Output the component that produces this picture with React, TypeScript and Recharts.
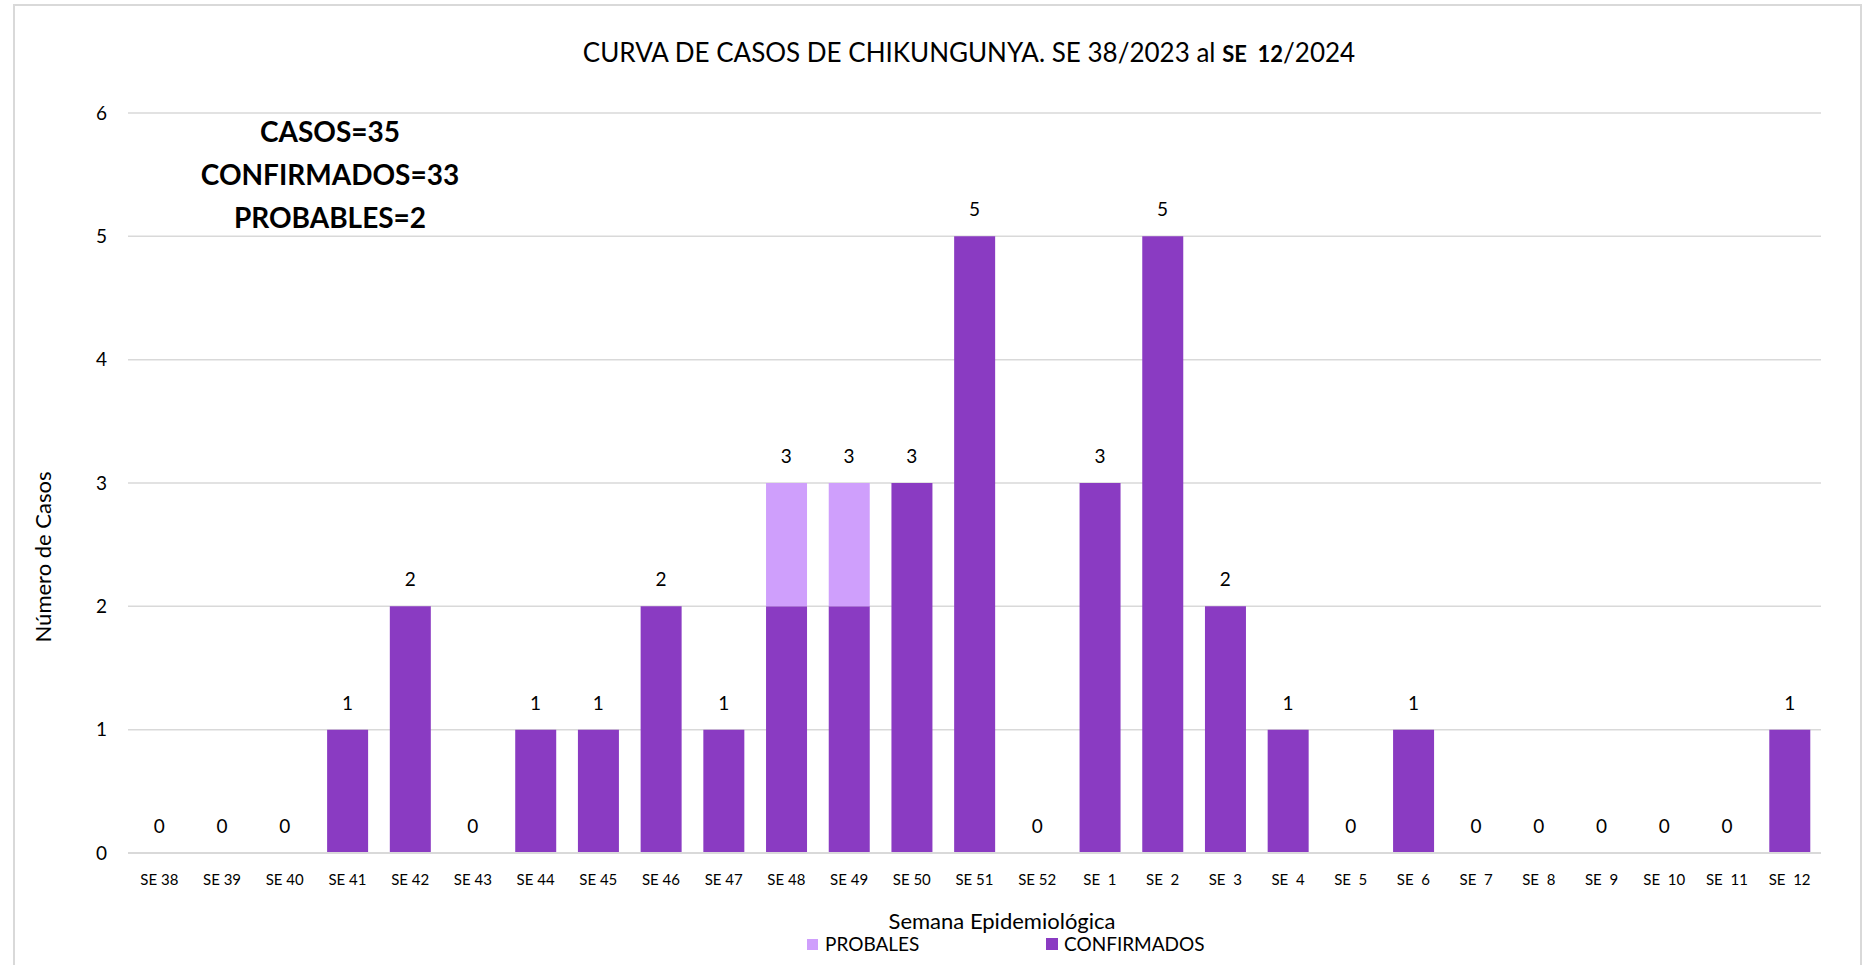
import { ComposedChart, Bar, Line, XAxis, YAxis, CartesianGrid, LabelList } from 'recharts';

const semanas = [
  'SE 38', 'SE 39', 'SE 40', 'SE 41', 'SE 42', 'SE 43', 'SE 44', 'SE 45', 'SE 46', 'SE 47',
  'SE 48', 'SE 49', 'SE 50', 'SE 51', 'SE 52', 'SE  1', 'SE  2', 'SE  3', 'SE  4', 'SE  5',
  'SE  6', 'SE  7', 'SE  8', 'SE  9', 'SE  10', 'SE  11', 'SE  12',
];
const confirmados = [0, 0, 0, 1, 2, 0, 1, 1, 2, 1, 2, 2, 3, 5, 0, 3, 5, 2, 1, 0, 1, 0, 0, 0, 0, 0, 1];
const probables = [0, 0, 0, 0, 0, 0, 0, 0, 0, 0, 1, 1, 0, 0, 0, 0, 0, 0, 0, 0, 0, 0, 0, 0, 0, 0, 0];
const yTicks = [0, 1, 2, 3, 4, 5, 6];
const resumen = ['CASOS=35', 'CONFIRMADOS=33', 'PROBABLES=2'];

const COLOR_CONF = '#8a3bc2';
const COLOR_PROB = '#cf9ffc';
const FONT = 'Lato, "Open Sans", sans-serif';

const data = semanas.map((s, i) => ({
  semana: s.replace(/ /g, '\u00a0'),
  confirmados: confirmados[i],
  probables: probables[i],
  total: confirmados[i] + probables[i],
}));

export default function App() {
  return (
    <div style={{ position: 'absolute', left: 0, top: 0, width: 1872, height: 965, background: '#fff', fontFamily: FONT, overflow: 'hidden' }}>
      <div style={{ position: 'absolute', left: 13, top: 4, width: 1849, height: 980, border: '2px solid #d9d9d9', boxSizing: 'border-box' }} />
      <div style={{ position: 'absolute', left: 0, width: 1872, top: 36, textAlign: 'center', fontSize: 26, color: '#000', whiteSpace: 'pre', paddingLeft: 66, boxSizing: 'border-box' }}>
        CURVA DE CASOS DE CHIKUNGUNYA. SE 38/2023 al <b style={{ fontSize: 22 }}>SE  12</b>/2024
      </div>
      <ComposedChart
        width={1872}
        height={965}
        data={data}
        margin={{ top: 113, right: 51, bottom: 62, left: 68 }}
        barSize={41}
        style={{ position: 'absolute', left: 0, top: 0 }}
      >
        <CartesianGrid vertical={false} stroke="#d9d9d9" strokeWidth={1.5} />
        <XAxis
          dataKey="semana"
          interval={0}
          height={50}
          tickSize={0}
          tickMargin={21}
          axisLine={{ stroke: '#d9d9d9', strokeWidth: 2 }}
          tick={{ fontSize: 15, fill: '#000', fontFamily: FONT }}
        />
        <YAxis
          domain={[0, 6]}
          ticks={yTicks}
          width={60}
          tickSize={0}
          tickMargin={21}
          axisLine={false}
          tick={{ fontSize: 19, fill: '#000', fontFamily: FONT }}
        />
        <Bar dataKey="confirmados" name="CONFIRMADOS" stackId="a" fill={COLOR_CONF} isAnimationActive={false} />
        <Bar dataKey="probables" name="PROBALES" stackId="a" fill={COLOR_PROB} isAnimationActive={false} />
        <Line dataKey="total" stroke="none" dot={false} activeDot={false} legendType="none" isAnimationActive={false}>
          <LabelList dataKey="total" position="top" offset={20} style={{ fontSize: 19, fill: '#000', fontFamily: FONT }} />
        </Line>
      </ComposedChart>
      {resumen.map((t, i) => (
        <div key={t} style={{ position: 'absolute', left: 130, width: 400, top: 113 + i * 43, textAlign: 'center', fontSize: 28, fontWeight: 700, lineHeight: '36px', color: '#000' }}>
          {t}
        </div>
      ))}
      <div style={{ position: 'absolute', left: 42, top: 557, transform: 'translate(-50%, -50%) rotate(-90deg)', fontSize: 22, whiteSpace: 'nowrap', color: '#000' }}>
        Número de Casos
      </div>
      <div style={{ position: 'absolute', left: 1002, top: 920, transform: 'translate(-50%, -50%)', fontSize: 22, whiteSpace: 'nowrap', color: '#000' }}>
        Semana Epidemiológica
      </div>
      <div style={{ position: 'absolute', top: 932, left: 807, display: 'flex', alignItems: 'center', fontSize: 19, color: '#000', lineHeight: '24px' }}>
        <span style={{ width: 11, height: 11, background: COLOR_PROB, marginRight: 7 }} />
        <span>PROBALES</span>
      </div>
      <div style={{ position: 'absolute', top: 932, left: 1046, display: 'flex', alignItems: 'center', fontSize: 19, color: '#000', lineHeight: '24px' }}>
        <span style={{ width: 12, height: 12, background: COLOR_CONF, marginRight: 6 }} />
        <span>CONFIRMADOS</span>
      </div>
    </div>
  );
}
